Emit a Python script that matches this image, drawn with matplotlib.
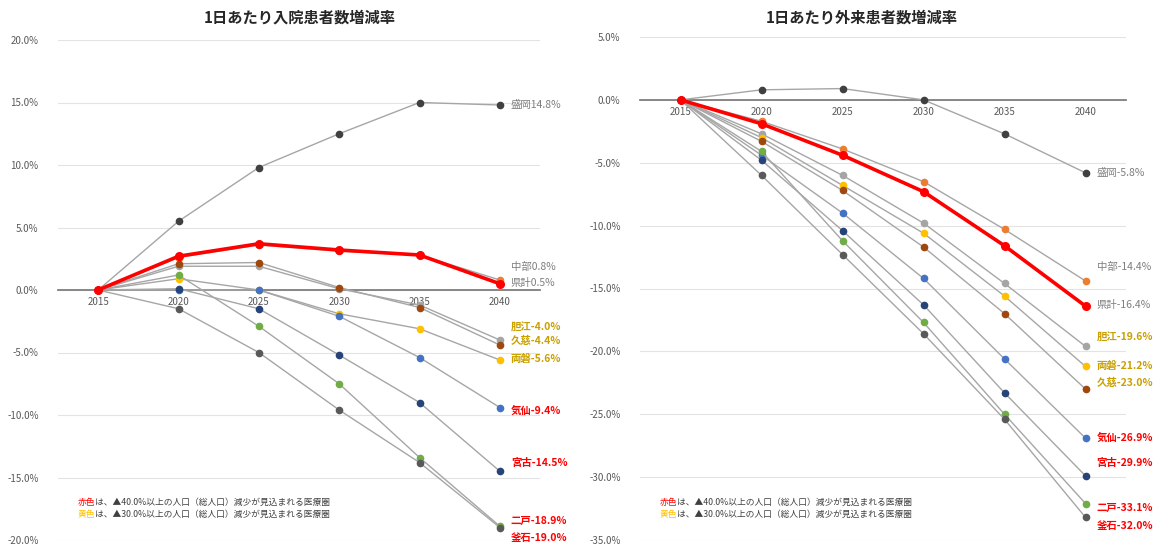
import numpy as np
import matplotlib.pyplot as plt

plt.rcParams['font.family'] = ['Noto Sans CJK JP', 'DejaVu Sans']

years = ['2015', '2020', '2025', '2030', '2035', '2040']
areas = ['盛岡', '中部', '県計', '胆江', '両磐', '久慈', '気仙', '宮古', '二戸', '釜石']

# 1日あたり入院患者数増減率 (%)
nyuin_morioka = [0, 5.5, 9.8, 12.5, 15.0, 14.8]
nyuin_chubu = [0, 2.6, 3.6, 3.1, 2.8, 0.8]
nyuin_kenkei = [0, 2.7, 3.7, 3.2, 2.8, 0.5]
nyuin_tanko = [0, 1.9, 1.9, 0.1, -1.2, -4.0]
nyuin_ryoban = [0, 0.9, 0.0, -1.9, -3.1, -5.6]
nyuin_kuji = [0, 2.1, 2.2, 0.2, -1.4, -4.4]
nyuin_kesen = [0, 0.0, 0.0, -2.1, -5.4, -9.4]
nyuin_miyako = [0, 0.1, -1.5, -5.2, -9.0, -14.5]
nyuin_ninohe = [0, 1.2, -2.9, -7.5, -13.4, -18.9]
nyuin_kamaishi = [0, -1.5, -5.0, -9.6, -13.8, -19.0]

# 1日あたり外来患者数増減率 (%)
gairai_morioka = [0, 0.8, 0.9, 0.0, -2.7, -5.8]
gairai_chubu = [0, -1.7, -3.9, -6.5, -10.3, -14.4]
gairai_kenkei = [0, -1.9, -4.4, -7.3, -11.6, -16.4]
gairai_tanko = [0, -2.7, -6.0, -9.8, -14.6, -19.6]
gairai_ryoban = [0, -3.0, -6.8, -10.6, -15.6, -21.2]
gairai_kuji = [0, -3.3, -7.2, -11.7, -17.0, -23.0]
gairai_kesen = [0, -4.4, -9.0, -14.2, -20.6, -26.9]
gairai_miyako = [0, -4.8, -10.4, -16.3, -23.3, -29.9]
gairai_ninohe = [0, -4.1, -11.2, -17.7, -25.0, -32.1]
gairai_kamaishi = [0, -6.0, -12.3, -18.6, -25.4, -33.2]

nyuin_labels = ['盛岡14.8%', '中部0.8%', '県計0.5%', '胆江-4.0%', '両磐-5.6%',
                '久慈-4.4%', '気仙-9.4%', '宮古-14.5%', '二戸-18.9%', '釜石-19.0%']
gairai_labels = ['盛岡-5.8%', '中部-14.4%', '県計-16.4%', '胆江-19.6%', '両磐-21.2%',
                 '久慈-23.0%', '気仙-26.9%', '宮古-29.9%', '二戸-33.1%', '釜石-32.0%']

# 見た目の設定
marker_colors = ['#404040', '#ED7D31', '#FF0000', '#A5A5A5', '#FFC000',
                 '#9E480E', '#4472C4', '#264478', '#70AD47', '#595959']
label_colors = ['#7F7F7F', '#7F7F7F', '#7F7F7F', '#C9A000', '#C9A000',
                '#C9A000', '#FF0000', '#FF0000', '#FF0000', '#FF0000']
nyuin_offsets = [0, 13, 1, 12, 1, 4, -3, 8, 5, -10]
gairai_offsets = [0, 14, 1, 9, 0, 6, 0, 13, -4, -9]


def draw(ax, series, labels, offsets, ylim, step, title, title_x):
    x = np.arange(len(years))
    for i, y in enumerate(series):
        if areas[i] == '県計':
            continue
        ax.plot(x, y, color='#A6A6A6', lw=1.0, marker='o', ms=4.5,
                mfc=marker_colors[i], mec=marker_colors[i], zorder=3)
    k = areas.index('県計')
    ax.plot(x, series[k], color='#FF0000', lw=2.6, marker='o', ms=5.5,
            mfc='#FF0000', mec='#FF0000', zorder=4)

    for i, y in enumerate(series):
        bold = label_colors[i] != '#7F7F7F'
        ax.annotate(labels[i], xy=(x[-1], y[-1]), xytext=(11, offsets[i]),
                    textcoords='offset pixels', va='center', ha='left',
                    fontsize=7.5, color=label_colors[i],
                    fontweight='bold' if bold else 'normal',
                    annotation_clip=False)

    ax.set_xlim(-0.5, len(years) - 0.5)
    ax.set_ylim(*ylim)
    ax.set_yticks(np.arange(ylim[0], ylim[1] + 0.01, step))
    ax.set_yticklabels([f'{v:.1f}%' for v in ax.get_yticks()])
    ax.set_xticks(x)
    ax.set_xticklabels(years)
    for s in ['top', 'right', 'left']:
        ax.spines[s].set_visible(False)
    ax.spines['bottom'].set_position(('data', 0))
    ax.spines['bottom'].set_color('#7F7F7F')
    ax.spines['bottom'].set_linewidth(1.3)
    ax.tick_params(axis='both', length=0, labelsize=7, colors='#595959')
    ax.tick_params(axis='y', pad=14)
    ax.tick_params(axis='x', pad=5)
    ax.yaxis.grid(True, color='#E3E3E3', lw=0.8)
    ax.set_axisbelow(True)
    fig.text(title_x, 1 - 18 / 550, title, ha='center', va='center',
             fontsize=11, fontweight='bold', color='#262626')

    # 注記
    for j, (pre, col, pct) in enumerate([('赤色', '#FF0000', '40.0'),
                                          ('黄色', '#FFC000', '30.0')]):
        t = ax.text(0.04, 0.075 - j * 0.024, pre, transform=ax.transAxes,
                    fontsize=6.3, color=col, va='center')
        ax.annotate(f'は、▲{pct}%以上の人口（総人口）減少が見込まれる医療圏',
                    xy=(1, 0.5), xycoords=t, va='center', fontsize=6.3,
                    color='#404040')


fig = plt.figure(figsize=(11.72, 5.5), dpi=100)
ax1 = fig.add_axes([58 / 1172, 10 / 550, 482 / 1172, 500 / 550])
ax2 = fig.add_axes([640 / 1172, 10 / 550, 486 / 1172, 503 / 550])

nyuin = [nyuin_morioka, nyuin_chubu, nyuin_kenkei, nyuin_tanko, nyuin_ryoban,
         nyuin_kuji, nyuin_kesen, nyuin_miyako, nyuin_ninohe, nyuin_kamaishi]
gairai = [gairai_morioka, gairai_chubu, gairai_kenkei, gairai_tanko, gairai_ryoban,
          gairai_kuji, gairai_kesen, gairai_miyako, gairai_ninohe, gairai_kamaishi]

draw(ax1, nyuin, nyuin_labels, nyuin_offsets, (-20, 20), 5,
     '1日あたり入院患者数増減率', 300 / 1172)
draw(ax2, gairai, gairai_labels, gairai_offsets, (-35, 5), 5,
     '1日あたり外来患者数増減率', 862 / 1172)

fig.savefig('out.png', dpi=100)
